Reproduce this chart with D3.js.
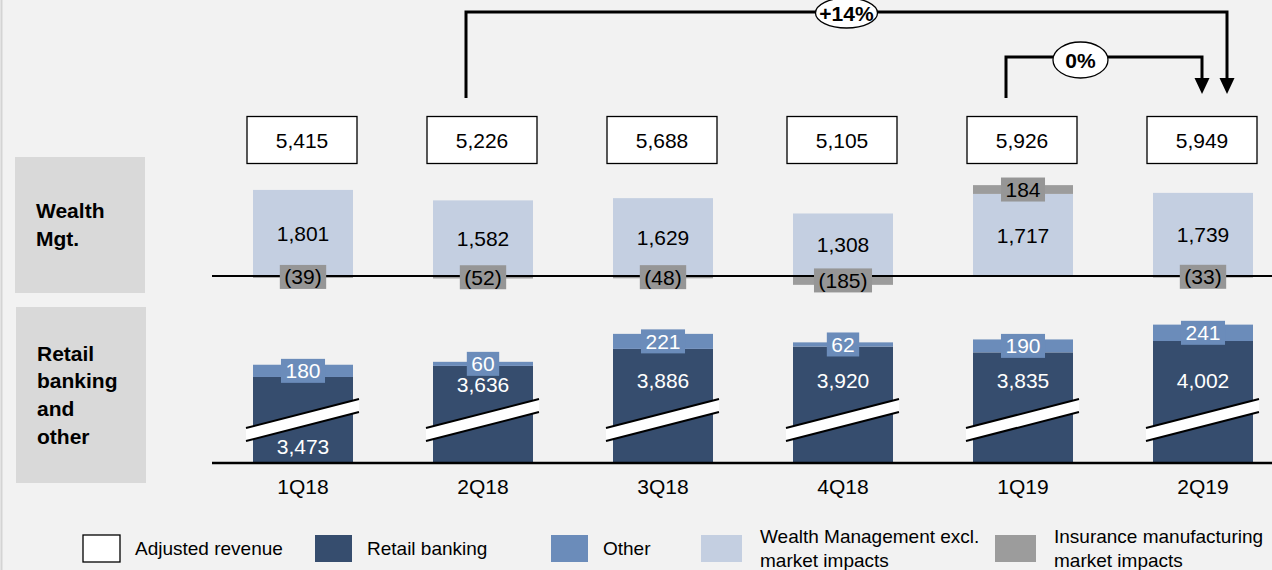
<!DOCTYPE html>
<html>
<head>
<meta charset="utf-8">
<script src="https://cdn.jsdelivr.net/npm/d3@7"></script>
<style>
  body { margin: 0; background: #f2f2f2; }
  svg { display: block; font-family: Arial, "Liberation Sans", sans-serif; }
</style>
</head>
<body>
<script>
let quarters = ['1Q18', '2Q18', '3Q18', '4Q18', '1Q19', '2Q19'];
let adjRevenue = [5415, 5226, 5688, 5105, 5926, 5949];
let wealthMgt = [1801, 1582, 1629, 1308, 1717, 1739];
let insuranceImpact = [-39, -52, -48, -185, 184, -33];
let retailBanking = [3473, 3636, 3886, 3920, 3835, 4002];
let other = [180, 60, 221, 62, 190, 241];
let growth = [
  {from: '2Q18', to: '2Q19', label: '+14%'},
  {from: '1Q19', to: '2Q19', label: '0%'},
];
let legendItems = [
  {label: ['Adjusted revenue'], fill: '#ffffff', stroke: '#000'},
  {label: ['Retail banking'], fill: '#364d6e'},
  {label: ['Other'], fill: '#6b8cba'},
  {label: ['Wealth Management excl.', 'market impacts'], fill: '#c4cfe1'},
  {label: ['Insurance manufacturing', 'market impacts'], fill: '#9c9c9c'},
];

let width = 1272, height = 570;
let col = {dark: '#364d6e', other: '#6b8cba', light: '#c4cfe1', grey: '#9c9c9c', greyLbl: '#969696'};

let svg = d3.select('body').append('svg')
  .attr('width', width)
  .attr('height', height)

svg.append('rect').attr('width', width).attr('height', height).attr('fill', '#f2f2f2')
svg.append('line').attr('x1', 1.5).attr('x2', 1.5).attr('y1', 0).attr('y2', height)
  .attr('stroke', '#d4d4d4').attr('stroke-width', 2)

let x = d3.scaleBand().domain(quarters).range([213, 1293])
  .paddingInner(80 / 180).paddingOuter(40 / 180)
let bw = x.bandwidth()
let cx = q => x(q) + bw / 2

// wealth section: zero line at 276
let yW = d3.scaleLinear().domain([0, 1000]).range([276, 276 - 47.8])
// retail section: broken axis, starts at 2208
let axisBreak = 2208
let yR = d3.scaleLinear().domain([axisBreak, axisBreak + 1000]).range([463, 395])

// left row headers
let headers = [
  {lines: ['Wealth', 'Mgt.'], y0: 157, y1: 293, x: 15},
  {lines: ['Retail', 'banking', 'and', 'other'], y0: 307, y1: 483, x: 16},
]
headers.forEach(h => {
  svg.append('rect').attr('x', h.x).attr('y', h.y0).attr('width', 130).attr('height', h.y1 - h.y0)
    .attr('fill', '#d9d9d9')
  let mid = (h.y0 + h.y1) / 2
  let lh = 27.8
  h.lines.forEach((t, i) => {
    svg.append('text').attr('x', h.x + 21)
      .attr('y', mid + (i - (h.lines.length - 1) / 2) * lh)
      .attr('dy', '0.35em')
      .attr('font-size', 21).attr('font-weight', 'bold').text(t)
  })
})

function labelBox(g, xc, yc, txt, fill, color) {
  let t = g.append('text').attr('x', xc).attr('y', yc).attr('dy', '0.36em')
    .attr('text-anchor', 'middle').attr('font-size', 21).attr('fill', color).text(txt)
  let w = t.node().getComputedTextLength() + 9
  g.insert('rect', () => t.node())
    .attr('x', xc - w / 2).attr('y', yc - 12).attr('width', w).attr('height', 24)
    .attr('fill', fill)
}

let fmt = d3.format(',')
let fmtNeg = v => v < 0 ? '(' + fmt(-v) + ')' : fmt(v)

// wealth bars
let wg = svg.append('g')
quarters.forEach((q, i) => {
  wg.append('rect').attr('x', x(q)).attr('y', yW(wealthMgt[i])).attr('width', bw)
    .attr('height', yW(0) - yW(wealthMgt[i])).attr('fill', col.light)
})
quarters.forEach((q, i) => {
  let v = insuranceImpact[i]
  let base = v > 0 ? wealthMgt[i] : 0
  wg.append('rect').attr('x', x(q)).attr('y', yW(Math.max(base, base + v))).attr('width', bw)
    .attr('height', Math.abs(yW(base + v) - yW(base))).attr('fill', col.grey)
})
svg.append('line').attr('x1', 212).attr('x2', width).attr('y1', yW(0)).attr('y2', yW(0))
  .attr('stroke', '#000').attr('stroke-width', 2)
let wl = svg.append('g')
quarters.forEach((q, i) => {
  wl.append('text').attr('x', cx(q)).attr('y', (yW(wealthMgt[i]) + yW(0)) / 2).attr('dy', '0.36em')
    .attr('text-anchor', 'middle').attr('font-size', 21).text(fmt(wealthMgt[i]))
  let v = insuranceImpact[i]
  let base = v > 0 ? wealthMgt[i] : 0
  labelBox(wl, cx(q), (yW(base) + yW(base + v)) / 2, fmtNeg(v), col.greyLbl, '#000')
})

// retail bars
let rg = svg.append('g')
quarters.forEach((q, i) => {
  let rb = retailBanking[i]
  rg.append('rect').attr('x', x(q)).attr('y', yR(rb)).attr('width', bw)
    .attr('height', yR(axisBreak) - yR(rb)).attr('fill', col.dark)
  rg.append('rect').attr('x', x(q)).attr('y', yR(rb + other[i])).attr('width', bw)
    .attr('height', yR(rb) - yR(rb + other[i])).attr('fill', col.other)
})
svg.append('line').attr('x1', 212).attr('x2', width).attr('y1', yR(axisBreak)).attr('y2', yR(axisBreak))
  .attr('stroke', '#000').attr('stroke-width', 2.5)

// axis break marks
let yb = yR(axisBreak)
quarters.forEach(q => {
  let xl = x(q) - 7, xr = x(q) + bw + 6
  let tl = yb - 35, tr = yb - 64, th = 13
  rg.append('path')
    .attr('d', `M${xl},${tl}L${xr},${tr}L${xr},${tr + th}L${xl},${tl + th}Z`)
    .attr('fill', '#fff')
  rg.append('path').attr('d', `M${xl},${tl}L${xr},${tr}M${xl},${tl + th}L${xr},${tr + th}`)
    .attr('stroke', '#000').attr('stroke-width', 2).attr('fill', 'none')
})
quarters.forEach((q, i) => {
  let top = yR(retailBanking[i])
  let breakTop = yb - 49.5
  let ly = breakTop - top < 40 ? yb - 17 : Math.max(380, top + 19)
  rg.append('text').attr('x', cx(q)).attr('y', ly).attr('dy', '0.36em')
    .attr('text-anchor', 'middle').attr('font-size', 21).attr('fill', '#fff')
    .text(fmt(retailBanking[i]))
  let rb = retailBanking[i]
  labelBox(rg, cx(q), (yR(rb) + yR(rb + other[i])) / 2, fmt(other[i]), col.other, '#fff')
})

// x labels
svg.append('g').selectAll('text').data(quarters).join('text')
  .attr('x', d => cx(d)).attr('y', 486).attr('dy', '0.36em')
  .attr('text-anchor', 'middle').attr('font-size', 21).text(d => d)

// adjusted revenue boxes
let ag = svg.append('g')
quarters.forEach((q, i) => {
  ag.append('rect').attr('x', cx(q) - 56).attr('y', 116.5).attr('width', 110).attr('height', 47)
    .attr('fill', '#fff').attr('stroke', '#000').attr('stroke-width', 1.3)
  ag.append('text').attr('x', cx(q) - 1).attr('y', 140).attr('dy', '0.36em')
    .attr('text-anchor', 'middle').attr('font-size', 21).text(fmt(adjRevenue[i]))
})

// growth arrows
let arrowLayout = [
  {dx0: -17, dx1: 24, top: 12, at: 0.5, rx: 31, ry: 15, ly: 13},
  {dx0: -17, dx1: -1, top: 57, at: 0.38, rx: 27.5, ry: 18, ly: 60},
]
growth.forEach((a, k) => {
  let l = arrowLayout[k]
  let x0 = cx(a.from) + l.dx0, x1 = cx(a.to) + l.dx1
  let g = svg.append('g')
  g.append('path').attr('d', `M${x0},98V${l.top}H${x1}V80`)
    .attr('fill', 'none').attr('stroke', '#000').attr('stroke-width', 3)
  g.append('path').attr('d', `M${x1 - 7.5},78L${x1 + 7.5},78L${x1},94Z`).attr('fill', '#000')
  let ex = x0 + (x1 - x0) * l.at
  g.append('ellipse').attr('cx', ex).attr('cy', l.ly).attr('rx', l.rx).attr('ry', l.ry)
    .attr('fill', '#fff').attr('stroke', '#000').attr('stroke-width', 1.3)
  g.append('text').attr('x', ex).attr('y', l.ly).attr('dy', '0.36em')
    .attr('text-anchor', 'middle').attr('font-size', 21).attr('font-weight', 'bold').text(a.label)
})

// legend
let legX = [83, 315, 551, 701, 995]
let lg = svg.append('g')
legendItems.forEach((d, i) => {
  lg.append('rect').attr('x', legX[i]).attr('y', 535).attr('width', i > 2 ? 41 : 37).attr('height', 27)
    .attr('fill', d.fill).attr('stroke', d.stroke || 'none').attr('stroke-width', 1.3)
  d.label.forEach((t, j) => {
    lg.append('text').attr('x', legX[i] + (i > 2 ? 59 : 52))
      .attr('y', d.label.length > 1 ? 536 + j * 24 : 548).attr('dy', '0.36em')
      .attr('font-size', 19).text(t)
  })
})
</script>
</body>
</html>
